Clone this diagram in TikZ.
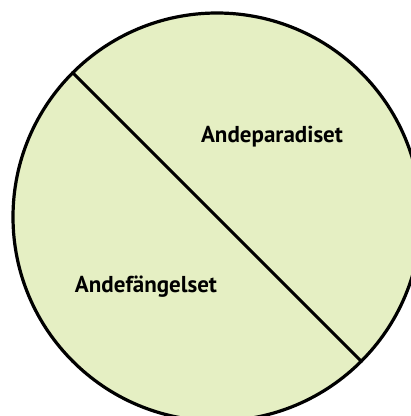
\documentclass[tikz,border=0pt]{standalone}
\usepackage{fontspec}
\setsansfont{PT Sans}
\usetikzlibrary{positioning}
\definecolor{paleolive}{HTML}{E5EFC3}

\begin{document}
\begin{tikzpicture}[x=1pt, y=-1pt,
    tag/.style={font=\sffamily\bfseries\fontsize{23}{25}\selectfont, anchor=base, inner sep=0pt}]
  \useasboundingbox (0,0) rectangle (411,416);
  \node (disc) [circle, draw, line width=3.2pt, fill=paleolive, minimum size=408pt, inner sep=0pt, outer sep=0pt] at (217,217) {};
  \draw[line width=3pt] (disc.135) -- (disc.-45);
  \node (paradis) [tag] at (272,142) {Andeparadiset};
  \node (fangelse) [tag] at (146,292) {Andefängelset};
\end{tikzpicture}
\end{document}
